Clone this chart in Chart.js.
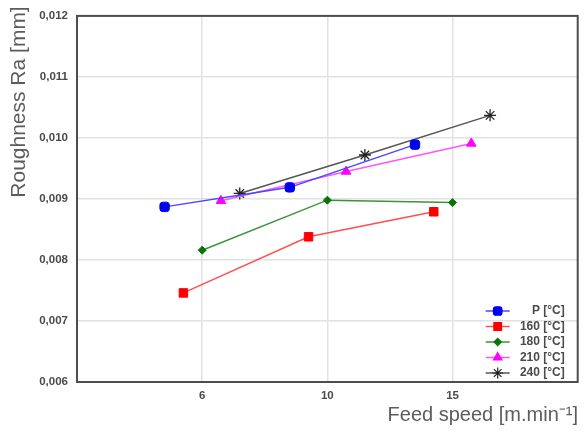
<!DOCTYPE html>
<html lang="en">
<head>
    <meta charset="UTF-8">
    <title>Roughness vs Feed speed</title>
    <script src="https://cdn.jsdelivr.net/npm/chart.js"></script>
    <style>
        html, body {
            margin: 0;
            padding: 0;
            background: #fff;
        }
        canvas {
            display: block;
        }
    </style>
</head>
<body>
    <canvas id="roughnessChart" width="585" height="434"></canvas>

    <script>
        // feed speed categories [m.min-1]
        const feedSpeed = [6, 10, 15];

        const seriesNames = ['P [°C]', '160 [°C]', '180 [°C]', '210 [°C]', '240 [°C]'];

        // roughness Ra [mm]
        const roughP   = [0.00887, 0.00919, 0.00989];
        const rough160 = [0.00746, 0.00838, 0.00879];
        const rough180 = [0.00816, 0.00898, 0.00894];
        const rough210 = [0.00897, 0.00945, 0.00991];
        const rough240 = [0.00909, 0.00972, 0.01037];

        const yTicks = [0.006, 0.007, 0.008, 0.009, 0.010, 0.011, 0.012];

        // each series is shifted a bit sideways around its category
        const dodge = [-0.3, -0.15, 0, 0.15, 0.3];

        const styles = [
            { line: '#4646ff', fill: '#0000ee', point: 'rectRounded', r: 5.5 },
            { line: '#ff5050', fill: '#ff0000', point: 'rect', r: 6 },
            { line: '#3a943a', fill: '#067506', point: 'rectRot', r: 4 },
            { line: '#ff55ff', fill: '#ff00ff', point: 'triangle', r: 5.5 },
            { line: '#555555', fill: '#222222', point: 'star', r: 6 }
        ];

        const allSeries = [roughP, rough160, rough180, rough210, rough240];

        function toPoints(values, s) {
            return values.map((v, i) => ({ x: i + 1 + dodge[s], y: v }));
        }

        const frameAndText = {
            id: 'frameAndText',
            afterDraw(chart) {
                const ctx = chart.ctx;
                const a = chart.chartArea;
                ctx.save();

                // frame
                ctx.strokeStyle = '#4d4d4d';
                ctx.lineWidth = 2;
                ctx.strokeRect(a.left, a.top, a.right - a.left, a.bottom - a.top);

                // axis titles
                ctx.fillStyle = '#5c5c5c';
                ctx.font = '20px "Liberation Sans", Arial, sans-serif';
                ctx.textAlign = 'right';
                ctx.textBaseline = 'alphabetic';
                ctx.fillText('Feed speed [m.min⁻¹]', 578, 421);

                ctx.save();
                ctx.translate(25, 102);
                ctx.rotate(-Math.PI / 2);
                ctx.textAlign = 'center';
                ctx.font = '21px "Liberation Sans", Arial, sans-serif';
                ctx.fillText('Roughness Ra [mm]', 0, 0);
                ctx.restore();

                // legend inside the plot, bottom right
                ctx.font = 'bold 12px "Liberation Sans", Arial, sans-serif';
                ctx.textBaseline = 'middle';
                ctx.textAlign = 'right';
                const rowH = 15.5;
                const baseY = a.bottom - 9 - rowH * (seriesNames.length - 1);
                seriesNames.forEach((name, i) => {
                    const y = baseY + i * rowH;
                    const mx = a.right - 80;
                    const st = styles[i];
                    ctx.strokeStyle = st.line;
                    ctx.lineWidth = 1.5;
                    ctx.beginPath();
                    ctx.moveTo(mx - 12, y);
                    ctx.lineTo(mx + 12, y);
                    ctx.stroke();
                    ctx.fillStyle = st.fill;
                    ctx.strokeStyle = st.fill;
                    ctx.lineWidth = 1.2;
                    if (Chart.helpers && Chart.helpers.drawPoint) {
                        Chart.helpers.drawPoint(ctx, {
                            pointStyle: st.point,
                            radius: st.r * 0.9,
                            borderWidth: 1.2,
                            rotation: 0
                        }, mx, y);
                    }
                    ctx.fillStyle = '#4a4a4a';
                    ctx.fillText(name, a.right - 13, y);
                });

                ctx.restore();
            }
        };

        const ctx = document.getElementById('roughnessChart').getContext('2d');

        new Chart(ctx, {
            type: 'line',
            data: {
                datasets: allSeries.map((values, s) => ({
                    label: seriesNames[s],
                    data: toPoints(values, s),
                    borderColor: styles[s].line,
                    borderWidth: 1.5,
                    backgroundColor: styles[s].fill,
                    pointStyle: styles[s].point,
                    pointRadius: styles[s].r,
                    pointBorderColor: styles[s].fill,
                    pointBackgroundColor: styles[s].fill,
                    pointBorderWidth: s === 4 ? 1.3 : 1,
                    fill: false,
                    tension: 0
                }))
            },
            options: {
                responsive: false,
                maintainAspectRatio: false,
                animation: false,
                layout: {
                    padding: { top: 14, right: 5, left: 0, bottom: 0 }
                },
                plugins: {
                    legend: { display: false },
                    tooltip: { enabled: false }
                },
                scales: {
                    x: {
                        type: 'linear',
                        min: 0,
                        max: feedSpeed.length + 1,
                        afterFit(scale) { scale.height = 52; },
                        afterBuildTicks(scale) {
                            scale.ticks = feedSpeed.map((v, i) => ({ value: i + 1 }));
                        },
                        ticks: {
                            autoSkip: false,
                            maxRotation: 0,
                            padding: 7,
                            color: '#4a4a4a',
                            font: { family: '"Liberation Sans", Arial, sans-serif', size: 11.5, weight: 'bold' },
                            callback: (v) => feedSpeed[v - 1]
                        },
                        grid: {
                            color: '#e2e2e2',
                            lineWidth: 1.5,
                            drawTicks: false
                        },
                        border: { display: false }
                    },
                    y: {
                        min: yTicks[0],
                        max: yTicks[yTicks.length - 1],
                        afterFit(scale) { scale.width = 77; },
                        afterBuildTicks(scale) {
                            scale.ticks = yTicks.map(v => ({ value: v }));
                        },
                        ticks: {
                            autoSkip: false,
                            padding: 9,
                            color: '#4a4a4a',
                            font: { family: '"Liberation Sans", Arial, sans-serif', size: 11.5, weight: 'bold' },
                            callback: (v) => v.toFixed(3).replace('.', ',')
                        },
                        grid: {
                            color: '#e2e2e2',
                            lineWidth: 1.5,
                            drawTicks: false
                        },
                        border: { display: false }
                    }
                }
            },
            plugins: [frameAndText]
        });
    </script>
</body>
</html>
